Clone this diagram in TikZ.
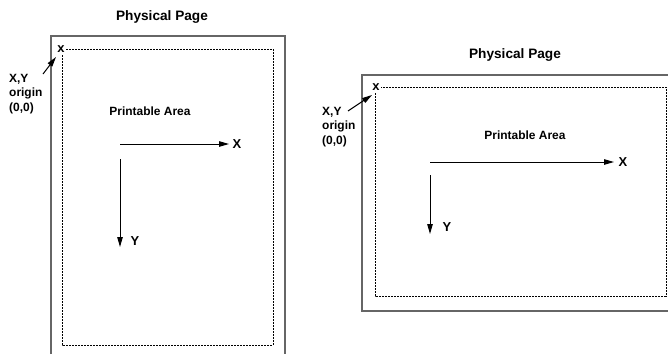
\documentclass[tikz,border=0pt]{standalone}
\usepackage{fontspec}
\setmainfont{Liberation Sans}
\usetikzlibrary{arrows.meta}
\begin{document}
\begin{tikzpicture}[x=1bp,y=-1bp,
  lbl/.style={font=\bfseries\fontsize{12}{14}\selectfont, inner sep=0pt},
  ttl/.style={font=\bfseries\fontsize{13.7}{16}\selectfont, inner sep=0pt},
  axl/.style={font=\bfseries\fontsize{13}{15}\selectfont, inner sep=0pt},
  xmark/.style={font=\bfseries\fontsize{13}{15}\selectfont, fill=white, inner sep=1.5bp},
  pagebox/.style={draw=black!60, line width=1.3bp},
  areabox/.style={draw=black, line width=0.8bp, dash pattern=on 2bp off 1bp},
  arr/.style={draw=black, line width=1bp, -{Triangle[length=10bp,width=5.5bp]}},
  orig/.style={font=\bfseries\fontsize{12}{14.3}\selectfont, align=left, inner sep=0pt, anchor=west}
]
\useasboundingbox (0,0) rectangle (668,354);
% ---------- left (portrait) ----------
\node[ttl] (t1) at (162,17) {Physical Page};
\draw[pagebox] (51,354) -- (51,36) -- (285,36) -- (285,354);
\draw[areabox] (62,49) rectangle (273,345);
\node[xmark] (x1) at (61,49) {x};
\node[orig] (o1) at (9,94) {X,Y\\origin\\(0,0)};
\coordinate (a1s) at (43,74);
\coordinate (a1e) at (56,57);
\draw[arr] (a1s) -- (a1e);
\node[lbl] (pa1) at (150,111) {Printable Area};
\coordinate (xo1) at (120,144);
\coordinate (xt1) at (229,144);
\node[axl] (xl1) at (237,144) {X};
\draw[arr] (xo1) -- (xt1);
\coordinate (yo1) at (120,159);
\coordinate (yt1) at (120,247);
\node[axl] (yl1) at (135,241) {Y};
\draw[arr] (yo1) -- (yt1);
% ---------- right (landscape) ----------
\node[ttl] (t2) at (515,55) {Physical Page};
\draw[pagebox] (668,75) -- (362,75) -- (362,311) -- (668,311);
\draw[areabox] (375,87) rectangle (666,296);
\node[xmark] (x2) at (376,87) {x};
\node[orig] (o2) at (322,127) {X,Y\\origin\\(0,0)};
\coordinate (a2s) at (348,111);
\coordinate (a2e) at (372,95);
\draw[arr] (a2s) -- (a2e);
\node[lbl] (pa2) at (525,135) {Printable Area};
\coordinate (xo2) at (430,162);
\coordinate (xt2) at (614,162);
\node[axl] (xl2) at (623,162) {X};
\draw[arr] (xo2) -- (xt2);
\coordinate (yo2) at (430,175);
\coordinate (yt2) at (430,234);
\node[axl] (yl2) at (447,227) {Y};
\draw[arr] (yo2) -- (yt2);
\end{tikzpicture}
\end{document}
